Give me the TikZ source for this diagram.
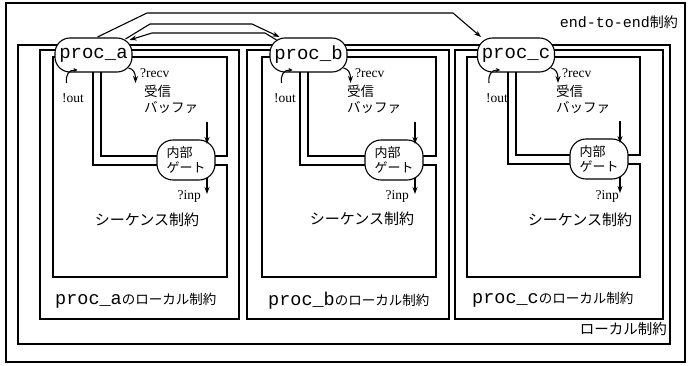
\documentclass[tikz,border=0pt]{standalone}
\usepackage{fontspec}
\setmainfont{Liberation Serif}
\newfontfamily\jp{Noto Sans CJK JP}
\newfontfamily\mono{Liberation Mono}
\usetikzlibrary{calc,arrows.meta,backgrounds}
\tikzset{
  box/.style={line width=1.1pt},
  procnode/.style={draw, fill=white, line width=1.1pt, rounded corners=15pt,
    minimum width=77pt, minimum height=34pt, inner sep=0pt,
    font=\mono\fontsize{19}{19}\selectfont},
  gatenode/.style={draw, fill=white, line width=1.1pt, rounded corners=16pt,
    minimum width=58pt, minimum height=40pt, inner sep=0pt, align=left,
    font=\jp\fontsize{13}{15}\selectfont},
  arr/.style={line width=1.1pt, -{Stealth[length=7pt,width=5pt]}},
  sarr/.style={line width=1.1pt, -{Stealth[length=4pt,width=4pt]}},
  lbl/.style={inner sep=0pt, font=\fontsize{13.5}{14}\selectfont},
  jplbl/.style={inner sep=0pt, align=left, font=\jp\fontsize{13.5}{15.5}\selectfont},
  seqlbl/.style={inner sep=0pt, font=\jp\fontsize{15}{16}\selectfont},
  grplbl/.style={inner sep=0pt, anchor=west},
}
\begin{document}
\begin{tikzpicture}[x=1pt,y=-1pt]
\useasboundingbox (0,0) rectangle (690,366);
% process nodes
\node[procnode] (pa) at (93.5,55) {proc\_a};
\node[procnode] (pb) at (308.5,55) {proc\_b};
\node[procnode] (pc) at (516,55) {proc\_c};
% internal gates
\node[gatenode] (ga) at (186,160) {内部\\ゲート};
\node[gatenode] (gb) at (394,160) {内部\\ゲート};
\node[gatenode] (gc) at (599,159) {内部\\ゲート};

\begin{pgfonlayer}{background}
% end-to-end and local constraint frames
\draw[box] (6,3) rectangle (685,362);
\draw[box] (18,45) rectangle (670,344);
\draw[box] (40,50) rectangle (239,319);
\draw[box] (247,50) rectangle (449,319);
\draw[box] (455,50) rectangle (663,319);
% group a: sequence box and receive buffer
\draw[box] (93,60) -- (93,165) -- (ga |- 0,165) -- (227,165) -- (227,277) -- (53,277) -- (53,57) -- (pa |- 0,57);
\draw[box] (101,60) -- (101,156) -- (ga |- 0,156) -- (227,156) -- (227,57) -- (pa |- 0,57);
% group b
\draw[box] (300,60) -- (300,165) -- (gb |- 0,165) -- (436,165) -- (436,277) -- (262,277) -- (262,57) -- (pb |- 0,57);
\draw[box] (308,60) -- (308,156) -- (gb |- 0,156) -- (436,156) -- (436,57) -- (pb |- 0,57);
% group c
\draw[box] (508,60) -- (508,164) -- (gc |- 0,164) -- (640,164) -- (640,277) -- (467,277) -- (467,57) -- (pc |- 0,57);
\draw[box] (516,60) -- (516,155) -- (gc |- 0,155) -- (640,155) -- (640,57) -- (pc |- 0,57);
\end{pgfonlayer}

% end-to-end connectors
\draw[arr] ($(pa)+(4,-18)$) -- (147,13) -- (453,13) -- ($(pc)+(-35,-18)$);
\draw[arr] ($(pa)+(32,-16)$) -- (150,24) -- (252,24) -- ($(pb)+(-29,-18)$);
\draw[arr] ($(pb)+(-32,-15)$) -- (265,33) -- (152,33) -- ($(pa)+(36,-15)$);

% ?recv and !out arrows
\foreach \p in {pa,pb,pc}{
  \draw[arr] ($(\p)+(35,13)$) .. controls ($(\p)+(40,14)$) and ($(\p)+(42,18)$) .. ($(\p)+(42,28)$);
  \draw[sarr] ($(\p)+(-27,28)$) .. controls ($(\p)+(-28,20)$) and ($(\p)+(-25,15)$) .. ($(\p)+(-16,15)$);
}
% gate arrows
\foreach \g in {ga,gb,gc}{
  \draw[arr] ($(\g)+(21,-38)$) -- ($(\g)+(21,-16)$);
  \draw[arr] ($(\g)+(21,18)$) -- ($(\g)+(21,34)$);
}

% labels group a
\node[lbl, anchor=west] (ra) at (140,73) {?recv};
\node[lbl, anchor=west] (oa) at (62,98) {!out};
\node[jplbl, anchor=north west] (ba) at (144,85) {受信\\バッファ};
\node[lbl, anchor=east] (ia) at (201,196) {?inp};
\node[seqlbl] (sa) at (147,220) {シーケンス制約};
\node[grplbl] (la) at (55,301) {{\mono\fontsize{18.5}{19}\selectfont proc\_a}{\jp\fontsize{13.5}{14}\selectfont のローカル制約}};
% labels group b
\node[lbl, anchor=west] (rb) at (355,73) {?recv};
\node[lbl, anchor=west] (ob) at (274,98) {!out};
\node[jplbl, anchor=north west] (bb) at (347,85) {受信\\バッファ};
\node[lbl, anchor=east] (ib) at (409,196) {?inp};
\node[seqlbl] (sb) at (362,219) {シーケンス制約};
\node[grplbl] (lb) at (268,301) {{\mono\fontsize{18.5}{19}\selectfont proc\_b}{\jp\fontsize{13.5}{14}\selectfont のローカル制約}};
% labels group c
\node[lbl, anchor=west] (rc) at (562,73) {?recv};
\node[lbl, anchor=west] (oc) at (486,98) {!out};
\node[jplbl, anchor=north west] (bc) at (556,85) {受信\\バッファ};
\node[lbl, anchor=east] (ic) at (619,196) {?inp};
\node[seqlbl] (sc) at (580,220) {シーケンス制約};
\node[grplbl] (lc) at (472,300) {{\mono\fontsize{18.5}{19}\selectfont proc\_c}{\jp\fontsize{13.5}{14}\selectfont のローカル制約}};
% frame labels
\node[inner sep=0pt, anchor=east] (ete) at (678,22) {{\mono\fontsize{15}{15}\selectfont end-to-end}{\jp\fontsize{14}{15}\selectfont 制約}};
\node[inner sep=0pt, anchor=east] (loc) at (667,329) {\jp\fontsize{14.5}{15}\selectfont ローカル制約};
\end{tikzpicture}
\end{document}
